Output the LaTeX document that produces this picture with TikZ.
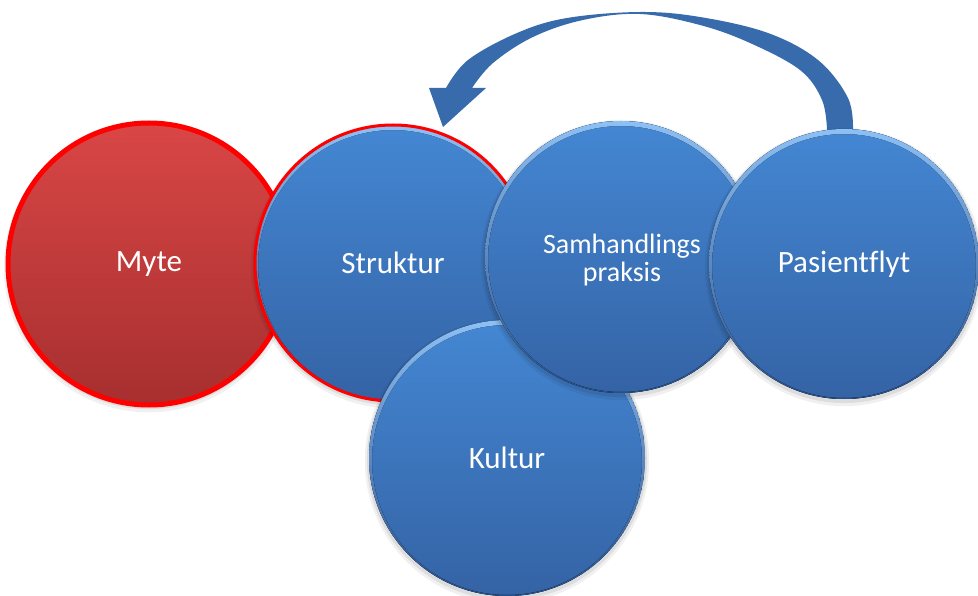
\documentclass[tikz,border=0pt]{standalone}
\usepackage{fontspec}
\setmainfont[Ligatures=NoCommon]{Carlito}
\usetikzlibrary{shadows}
\definecolor{bluetop}{HTML}{4487D3}
\definecolor{bluebot}{HTML}{3463A5}
\definecolor{rimlight}{HTML}{8DC0F5}
\definecolor{rimmid}{HTML}{3D77BF}
\definecolor{rimdark}{HTML}{2A5088}
\definecolor{redtop}{HTML}{D94646}
\definecolor{redbot}{HTML}{A72F2F}
\definecolor{arrowblue}{HTML}{386BAC}
\begin{document}
\begin{tikzpicture}[x=1pt,y=-1pt,
  softshadow/.style={
    general shadow={fill=black, opacity=0.06, shadow scale=1.03, shadow yshift=-3pt},
    general shadow={fill=black, opacity=0.08, shadow scale=1.015, shadow yshift=-2pt}},
  ball/.style={circle, inner sep=0pt, minimum size=#1, text=white,
    font=\fontsize{31}{28}\selectfont, align=center, softshadow},
  blueball/.style={ball=#1, top color=bluetop, bottom color=bluebot,
    path picture={
      \fill[even odd rule, top color=rimlight, middle color=rimmid, bottom color=rimdark]
        (path picture bounding box.center) circle[radius=#1/2]
        ([yshift=-2pt]path picture bounding box.center) circle[radius=#1/2-3pt];}},
  redrim/.style={draw=red, line width=#1},
  redball/.style={ball=#1, top color=redtop, bottom color=redbot},
  smalltext/.style={font=\fontsize{28}{28}\selectfont}]

\useasboundingbox (0,0) rectangle (978,596);

% curved feedback arrow from Pasientflyt back to Struktur
\fill[arrowblue]
  plot[smooth, tension=0.6] coordinates {(853,130) (848,98) (818,60) (768,33) (700,17) (640,12) (567,18) (517,33) (468,60) (446,88)}
  -- (429,88) -- (443,127) -- (486,88) -- (472,88)
  -- plot[smooth, tension=0.6] coordinates {(472,88) (493,63) (533,37) (583,20) (640,14) (700,25) (750,43) (800,70) (822,100) (827,130)}
  -- cycle;

% circles, back to front
\node[redball=282pt, redrim=5pt] (myte) at (149,264) {Myte};
\node[blueball=276pt, redrim=3pt] (struktur) at (393,263) {Struktur};
\node[blueball=276pt] (kultur) at (507,458) {Kultur};
\node[blueball=272pt, smalltext] (samhandling) at (621,257) {};
\node[text=white, smalltext, align=center] (samhandlingtext) at (622,260) {Samhandlings\\praksis};
\node[blueball=270pt] (pasientflyt) at (844,264) {Pasientflyt};
\end{tikzpicture}
\end{document}
